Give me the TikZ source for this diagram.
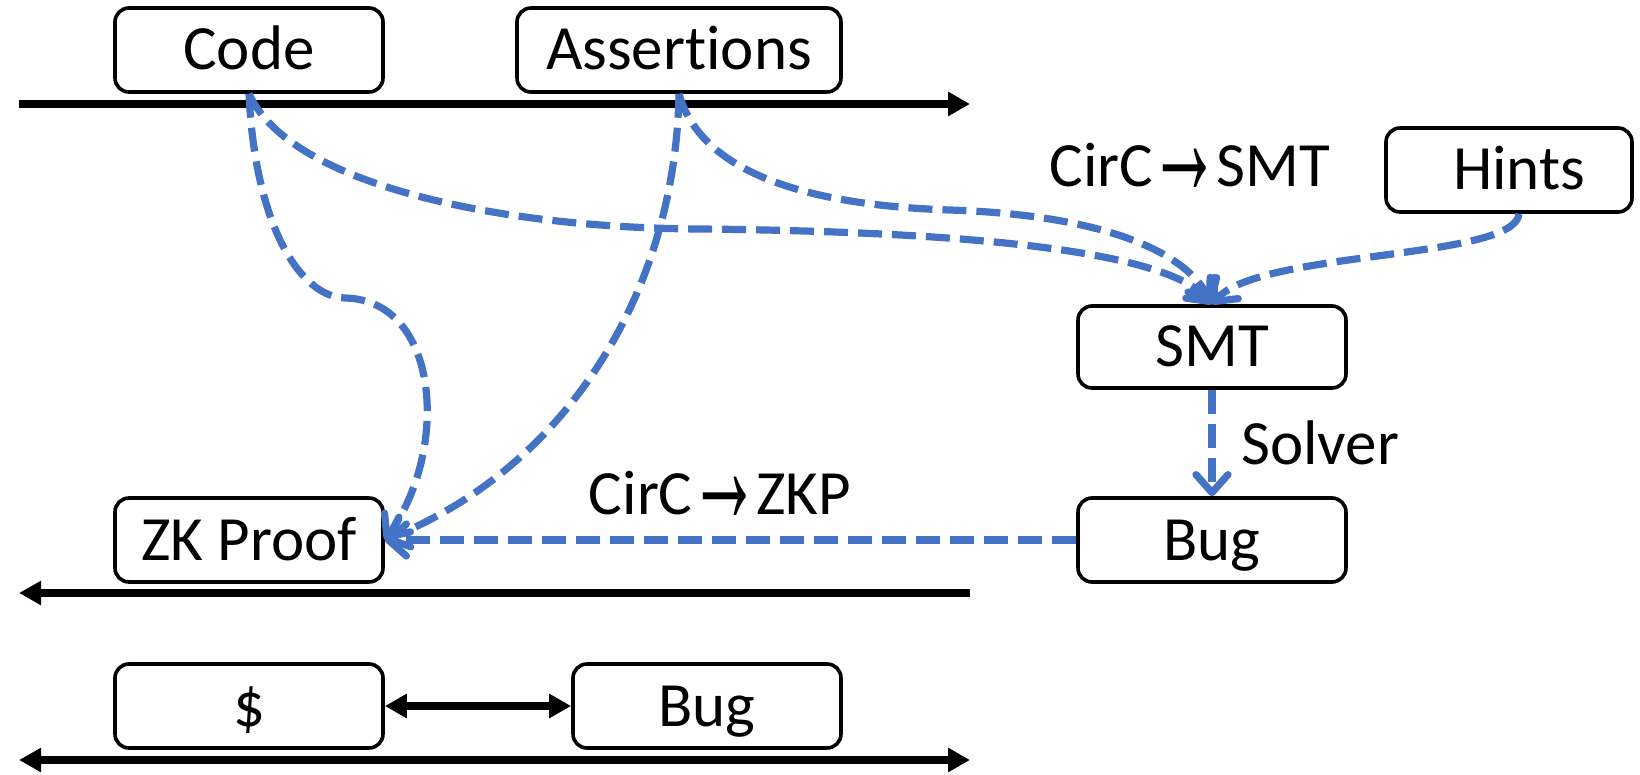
\documentclass[tikz,border=0pt]{standalone}
\usepackage{fontspec}
\setmainfont{Carlito}[Ligatures={NoCommon,NoRequired,NoContextual,NoDiscretionary}]
\newfontfamily\arrowfont{Liberation Sans}
\usetikzlibrary{arrows.meta}
\definecolor{flowblue}{HTML}{4472C4}
\tikzset{
  axtip/.tip={Triangle[length=11pt,width=11.5pt]},
  flowtip/.tip={Straight Barb[length=9pt,width=16pt,round]},
}
% tall chevron arrow used inside the converter labels
\newcommand{\conv}{\kern-0.07em\raisebox{-0.14em}{\scalebox{1.15}[2.6]{\arrowfont →}}\kern-0.07em}
\begin{document}
\begin{tikzpicture}[x=0.5pt,y=-0.5pt,
  box/.style={draw=black, line width=1.8pt, rounded corners=7pt,
    minimum width=134pt, minimum height=42pt, inner sep=0pt,
    text height=20pt, text depth=0pt,
    font=\fontsize{31.5}{36}\selectfont},
  lbl/.style={inner sep=0pt, font=\fontsize{31.5}{36}\selectfont},
  axis/.style={line width=4pt, -axtip},
  axisboth/.style={line width=4pt, axtip-axtip},
  flow/.style={draw=flowblue, line width=3.6pt,
    dash pattern=on 12pt off 5pt, -flowtip},
]
\useasboundingbox (0,0) rectangle (1640,775);

% time lines
\coordinate (t0) at (19,104);  \coordinate (t1) at (970,104);
\coordinate (m0) at (970,593); \coordinate (m1) at (19,593);
\coordinate (b0) at (19,760);  \coordinate (b1) at (970,760);
\draw[axis] (t0) -- (t1);
\draw[axis] (m0) -- (m1);
\draw[axisboth] (b0) -- (b1);

% boxes
\node[box] (code)   at (249,50)  {Code};
\node[box, minimum width=162pt] (assert) at (679,50) {Assertions};
\node[box, minimum width=123pt] (hints)  at (1509,170) {\hspace{10pt}Hints};
\node[box, minimum height=41pt] (smt) at (1212,347) {SMT};
\node[box] (bugr)   at (1212,540) {Bug};
\node[box] (zk)     at (249,540) {ZK Proof};
\node[box] (dollar) at (249,706) {\$};
\node[box] (bugb)   at (707,706) {Bug};

% labels
\node[lbl, anchor=base] (lsmt) at (1190,187) {CirC\conv SMT};
\node[lbl, anchor=base] (lzkp) at (720,515) {CirC\conv ZKP};
\node[lbl, anchor=base west] (lsolver) at (1241,465) {Solver};

% cost vs. bug
\draw[axisboth] (dollar.east) -- (bugb.west);

% flows
\draw[flow] (code.south) .. controls (255,225) and (300,297) .. (345,298)
  .. controls (440,300) and (450,450) .. (zk.east);
\draw[flow] (assert.south) .. controls (675,300) and (560,470) .. (zk.east);
\draw[flow] (code.south) .. controls (290,185) and (500,228) .. (700,229)
  .. controls (1000,232) and (1170,255) .. (smt.north);
\draw[flow] (assert.south) .. controls (700,170) and (800,205) .. (950,210)
  .. controls (1100,215) and (1185,250) .. (smt.north);
\draw[flow] ([xshift=5pt]hints.south) .. controls (1515,260) and (1260,250) .. (smt.north);
\draw[flow] (smt.south) -- (bugr.north);
\draw[flow] (bugr.west) -- (zk.east);
\end{tikzpicture}
\end{document}
